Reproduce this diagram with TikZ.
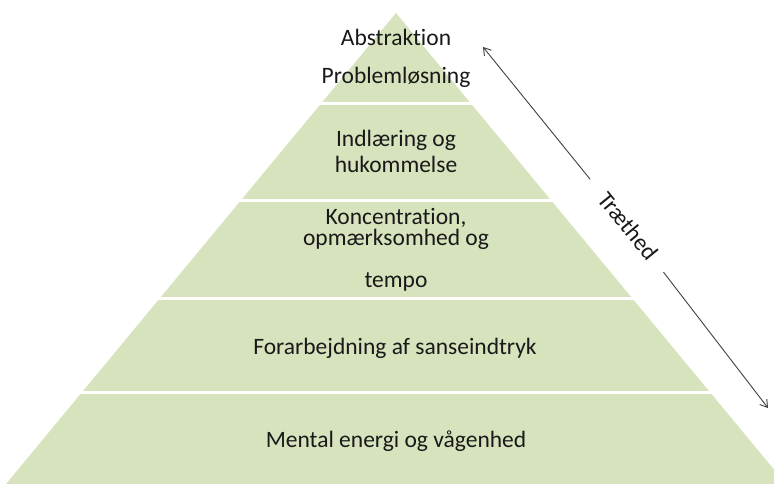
\documentclass[tikz,border=0pt]{standalone}
\usepackage{fontspec}
\setmainfont[RawFeature=-liga]{Carlito}
\usetikzlibrary{arrows.meta}

\definecolor{pyrgreen}{RGB}{215,227,189}

\tikzset{
  lvl/.style={anchor=base, inner sep=0pt, text=black!90, font=\fontsize{23.5}{28}\selectfont},
  gap/.style={draw=white, line width=3pt},
  tired/.style={draw=black!75, line width=0.9pt, -{Straight Barb[length=7pt,width=9pt]}}
}

\begin{document}
\begin{tikzpicture}[x=1pt,y=-1pt]
\useasboundingbox (0,0) rectangle (774,484);
\clip (0,0) rectangle (774,484);

% pyramid
\fill[pyrgreen] (396,13) -- (786,484) -- (6,484) -- cycle;
\draw[gap] (0,104) -- (774,104);
\draw[gap] (0,200) -- (774,200);
\draw[gap] (0,298) -- (774,298);
\draw[gap] (0,392) -- (774,392);

% levels
\node[lvl] (abstr) at (396,46) {Abstraktion};
\node[lvl] (probl) at (396,84) {Problemløsning};
\node[lvl] (indl) at (396,147) {Indlæring og};
\node[lvl] (huk) at (396,173) {hukommelse};
\node[lvl] (konc) at (396,224) {Koncentration,};
\node[lvl] (opm) at (396,245) {opmærksomhed og};
\node[lvl] (tempo) at (396,287) {tempo};
\node[lvl] (forarb) at (395,354) {Forarbejdning af sanseindtryk};
\node[lvl] (mental) at (396,447) {Mental energi og vågenhed};

% fatigue arrow
\node[rotate=-50.7, inner sep=0pt, text=black!90, font=\fontsize{23.5}{28}\selectfont] (traet) at (628,226) {Træthed};
\coordinate (tophead) at (483,47);
\coordinate (bothead) at (768,408);
\draw[tired, shorten <=20pt] (traet) -- (tophead);
\draw[tired, shorten <=18pt] (traet) -- (bothead);
\end{tikzpicture}
\end{document}
